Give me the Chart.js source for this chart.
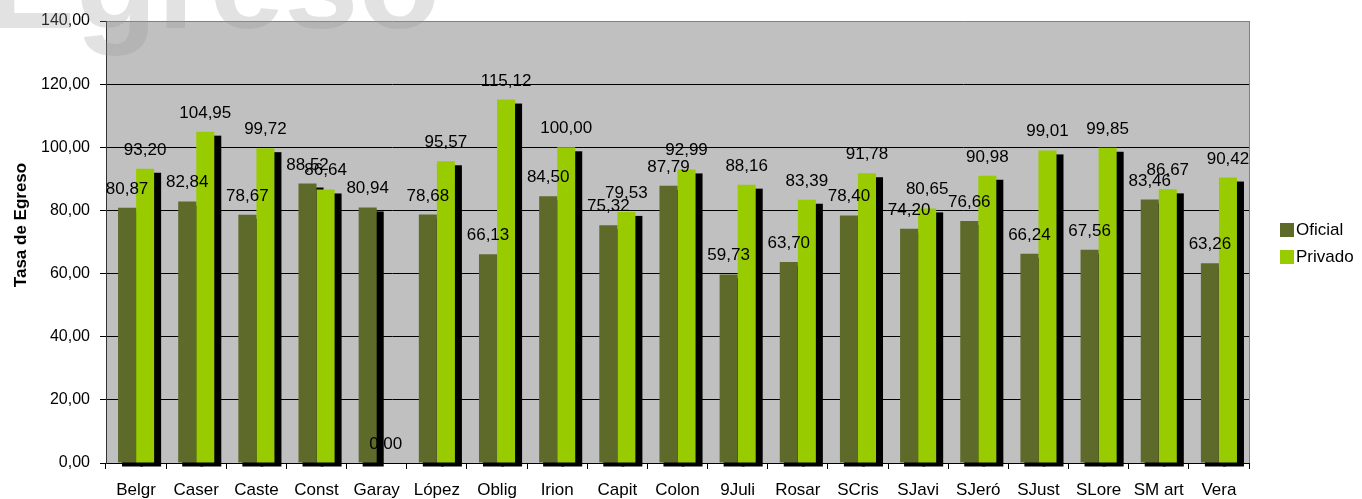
<!DOCTYPE html>
<html>
<head>
<meta charset="utf-8">
<script src="https://cdn.jsdelivr.net/npm/chart.js@4"></script>
<style>
    html, body { margin: 0; padding: 0; background: #fff; }
    canvas { display: block; }
</style>
</head>
<body>
<canvas id="egresoCanvas" width="1362" height="499"></canvas>
<script>
const categories = ["Belgr", "Caser", "Caste", "Const", "Garay", "López", "Oblig", "Irion", "Capit", "Colon",
    "9Juli", "Rosar", "SCris", "SJavi", "SJeró", "SJust", "SLore", "SM art", "Vera"];
const oficial = [80.87, 82.84, 78.67, 88.52, 80.94, 78.68, 66.13, 84.50, 75.32, 87.79,
    59.73, 63.70, 78.40, 74.20, 76.66, 66.24, 67.56, 83.46, 63.26];
const privado = [93.20, 104.95, 99.72, 86.64, 0.00, 95.57, 115.12, 100.00, 79.53, 92.99,
    88.16, 83.39, 91.78, 80.65, 90.98, 99.01, 99.85, 86.67, 90.42];
const yTicks = [0, 20, 40, 60, 80, 100, 120, 140];

const FONT = "'Liberation Sans', Arial, sans-serif";
Chart.defaults.font.family = FONT;
Chart.defaults.font.size = 16;
Chart.defaults.color = "#000";

const fmt = (v) => v.toFixed(2).replace(".", ",");

// plot background, bar shadows, value labels, legend and the big title
const excelLook = {
    id: "excelLook",
    beforeDraw(chart) {
        const { ctx, chartArea: a } = chart;
        ctx.save();
        ctx.fillStyle = "#C0C0C0";
        ctx.fillRect(a.left, a.top, a.right - a.left, a.bottom - a.top);
        ctx.restore();
    },
    beforeDatasetsDraw(chart) {
        const { ctx, chartArea: a } = chart;
        ctx.save();
        ctx.strokeStyle = "#808080";
        ctx.lineWidth = 1;
        ctx.beginPath();
        ctx.moveTo(a.right + 0.5, a.top);
        ctx.lineTo(a.right + 0.5, a.bottom);
        ctx.stroke();
        ctx.fillStyle = "#000";
        chart.data.datasets.forEach((ds, i) => {
            chart.getDatasetMeta(i).data.forEach((el) => {
                const p = el.getProps(["x", "y", "base", "width"], true);
                const h = p.base - p.y;
                if (h <= 0) return;
                ctx.fillRect(p.x - p.width / 2 + 4, p.y + 4, p.width + 3, h);
            });
        });
        ctx.restore();
    },
    afterDatasetsDraw(chart) {
        const { ctx } = chart;
        ctx.save();
        ctx.font = "17px " + FONT;
        ctx.fillStyle = "#000";
        ctx.textAlign = "center";
        ctx.textBaseline = "alphabetic";
        chart.data.datasets.forEach((ds, i) => {
            chart.getDatasetMeta(i).data.forEach((el, j) => {
                const p = el.getProps(["x", "y"], true);
                ctx.fillText(fmt(ds.data[j]), p.x, p.y - 14);
            });
        });
        ctx.restore();
    },
    afterDraw(chart) {
        const { ctx, chartArea: a } = chart;
        ctx.save();
        // y axis title
        ctx.translate(21, 225);
        ctx.rotate(-Math.PI / 2);
        ctx.font = "bold 17px " + FONT;
        ctx.textAlign = "center";
        ctx.textBaseline = "middle";
        ctx.fillStyle = "#000";
        ctx.fillText("Tasa de Egreso", 0, 0);
        ctx.restore();

        // legend
        ctx.save();
        ctx.font = "17px " + FONT;
        ctx.textBaseline = "middle";
        chart.data.datasets.forEach((ds, i) => {
            const cy = 230 + i * 27;
            ctx.fillStyle = ds.backgroundColor;
            ctx.fillRect(a.right + 31, cy - 7, 14, 14);
            ctx.fillStyle = "#000";
            ctx.fillText(ds.label, a.right + 47, cy);
        });
        ctx.restore();

        // faded title
        ctx.save();
        ctx.font = "bold 134px " + FONT;
        ctx.fillStyle = "rgba(150,150,150,0.28)";
        ctx.textBaseline = "alphabetic";
        ctx.fillText("Egreso", -14, 28);
        ctx.restore();
    },
};

const ctx = document.getElementById("egresoCanvas").getContext("2d");
const egresoChart = new Chart(ctx, {
    type: "bar",
    data: {
        labels: categories,
        datasets: [
            { label: "Oficial", data: oficial, backgroundColor: "#5E6A2A" },
            { label: "Privado", data: privado, backgroundColor: "#99CC00" },
        ],
    },
    options: {
        responsive: false,
        animation: false,
        devicePixelRatio: 1,
        layout: { padding: { top: 21, right: 113, left: 0, bottom: 0 } },
        datasets: {
            bar: { categoryPercentage: 0.6, barPercentage: 1.0 },
        },
        plugins: {
            legend: { display: false },
            tooltip: { enabled: false },
        },
        scales: {
            x: {
                afterFit: (scale) => { scale.height = 36; },
                grid: {
                    offset: true,
                    drawOnChartArea: false,
                    drawTicks: true,
                    tickLength: 6,
                    color: "#000",
                },
                border: { display: true, color: "#000", width: 1 },
                ticks: { autoSkip: false, maxRotation: 0, padding: 11, font: { size: 17 } },
            },
            y: {
                min: 0,
                max: 140,
                afterFit: (scale) => { scale.width = 106; },
                afterBuildTicks: (scale) => { scale.ticks = yTicks.map((v) => ({ value: v })); },
                grid: {
                    tickLength: 6,
                    color: (c) => (c.tick && c.tick.value === 140 ? "#808080" : "#000"),
                    tickColor: "#000",
                },
                border: { display: true, color: "#333", width: 1 },
                ticks: { padding: 10, callback: (v) => fmt(v), font: { size: 16 } },
            },
        },
    },
    plugins: [excelLook],
});
</script>
</body>
</html>
